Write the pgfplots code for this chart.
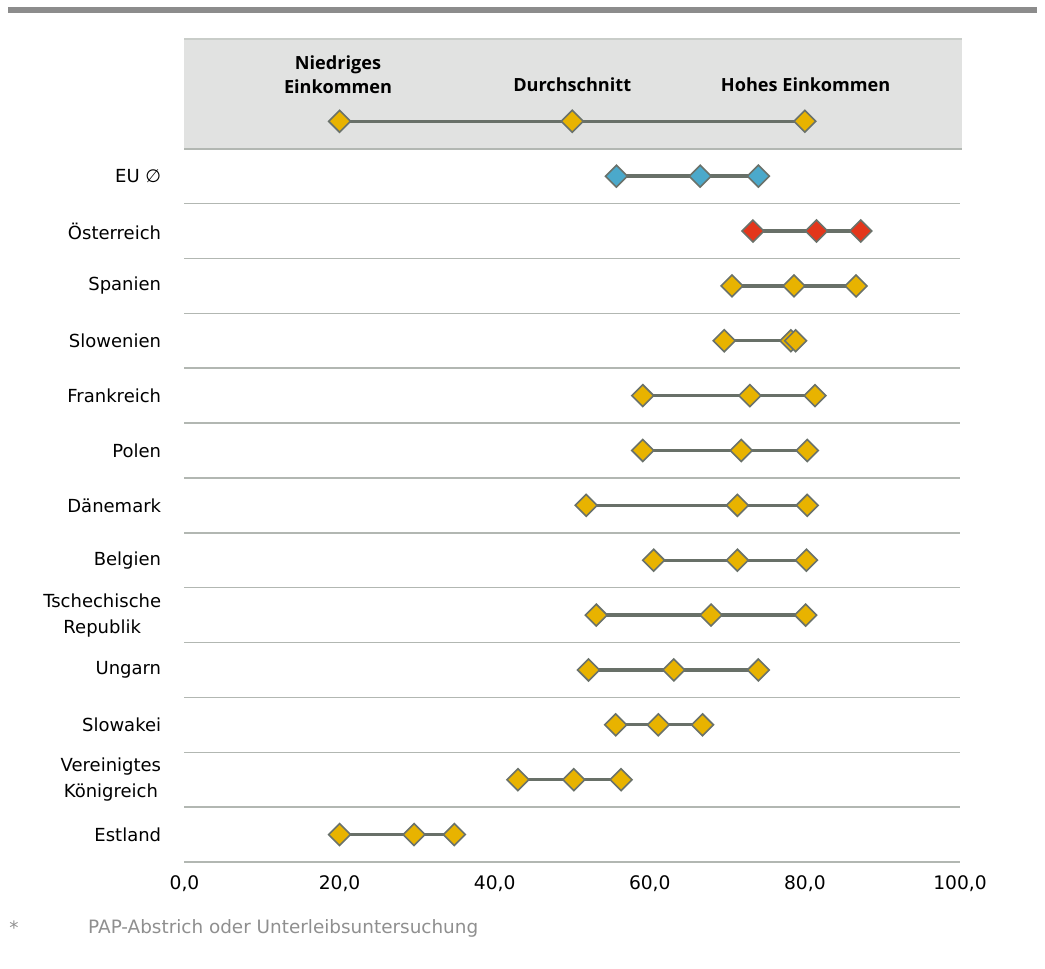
\documentclass[border=0pt]{standalone}
\usepackage{fontspec}
\setmainfont{DejaVu Sans}
\newfontfamily\headfont{Open Sans}
\usepackage{pgfplots}
\pgfplotsset{compat=1.18}
\definecolor{gold}{HTML}{E8B300}
\definecolor{blueM}{HTML}{4BA9CB}
\definecolor{redM}{HTML}{E3361B}
\definecolor{outl}{HTML}{6A726B}
\definecolor{linec}{HTML}{687068}
\definecolor{sepgray}{HTML}{B2B7B2}
\definecolor{headgray}{HTML}{E1E2E1}
\definecolor{topbar}{HTML}{8C8C8C}
\definecolor{footgray}{HTML}{8F8F8F}
\pgfplotsset{
  dumb/.style={color=linec, line width=2.5pt, mark=square*, mark size=5.8pt,
    mark options={fill=#1, draw=outl, line width=1.2pt, rotate=45}},
}
\begin{document}
\begin{tikzpicture}
\path[use as bounding box] (-138.375pt,-80.25pt) rectangle (645.375pt,646.5pt);
\fill[topbar] (-132.4pt,636.75pt) rectangle (639.4pt,641.25pt);
\begin{axis}[at={(0pt,0pt)}, anchor=south west, scale only axis,
  width=581.6pt, height=617.25pt,
  xmin=0, xmax=100, ymin=0.5, ymax=15.5, clip=false,
  axis x line*=bottom, axis y line*=left,
  y axis line style={draw=none},
  x axis line style={sepgray, line width=1.2pt},
  major tick length=0pt, minor tick length=0pt,
  xtick={0,20,...,100},
  xticklabel={\pgfmathprintnumber[fixed,fixed zerofill,precision=1,use comma]{\tick}},
  /pgf/number format/assume math mode=true,
  xticklabel style={font=\fontsize{14}{16}\selectfont, yshift=-7pt},
  ytick={1,...,13},
  yticklabels={Estland,{Vereinigtes\\Königreich},Slowakei,Ungarn,{Tschechische\\Republik},Belgien,Dänemark,Polen,Frankreich,Slowenien,Spanien,Österreich,EU ∅},
  yticklabel style={font=\fontsize{13.5}{19.5}\selectfont, align=center, anchor=east, xshift=-14pt},
  minor ytick={1.5,2.5,...,12.5},
  yminorgrids, minor grid style={sepgray, line width=1.1pt},
]
\fill[headgray] (axis cs:0,13.5) rectangle (axis cs:100.25,15.5);
\draw[sepgray!70, line width=1pt] (axis cs:0,15.5) -- (axis cs:100.25,15.5);
\draw[sepgray, line width=1.2pt] (axis cs:0,13.5) -- (axis cs:100.25,13.5);
\node[font=\headfont\bfseries\fontsize{13.6}{18}\selectfont, align=center] at (axis cs:19.8,14.85) {Niedriges\\Einkommen};
\node[font=\headfont\bfseries\fontsize{13.6}{18}\selectfont] at (axis cs:50,14.67) {Durchschnitt};
\node[font=\headfont\bfseries\fontsize{13.6}{18}\selectfont] at (axis cs:80.1,14.67) {Hohes Einkommen};
\addplot[dumb=gold] coordinates {(20,14) (50,14) (80,14)};
\addplot[dumb=blueM] coordinates {(55.7,13) (66.5,13) (74.0,13)};
\addplot[dumb=redM] coordinates {(73.3,12) (81.5,12) (87.2,12)};
\addplot[dumb=gold] coordinates {(70.6,11) (78.6,11) (86.6,11)};
\addplot[dumb=gold] coordinates {(69.6,10) (78.2,10) (78.8,10)};
\addplot[dumb=gold] coordinates {(59.1,9) (72.9,9) (81.3,9)};
\addplot[dumb=gold] coordinates {(59.1,8) (71.8,8) (80.3,8)};
\addplot[dumb=gold] coordinates {(51.8,7) (71.3,7) (80.3,7)};
\addplot[dumb=gold] coordinates {(60.5,6) (71.3,6) (80.2,6)};
\addplot[dumb=gold] coordinates {(53.1,5) (67.9,5) (80.1,5)};
\addplot[dumb=gold] coordinates {(52.1,4) (63.1,4) (74.0,4)};
\addplot[dumb=gold] coordinates {(55.6,3) (61.1,3) (66.8,3)};
\addplot[dumb=gold] coordinates {(43.0,2) (50.2,2) (56.3,2)};
\addplot[dumb=gold] coordinates {(20.0,1) (29.6,1) (34.8,1)};
\end{axis}
\node[footgray, font=\fontsize{13.8}{16}\selectfont] at (-127.9pt,-49.5pt) {*};
\node[footgray, font=\fontsize{13.8}{16}\selectfont, anchor=west, inner sep=0pt] at (-72.4pt,-49.5pt) {PAP-Abstrich oder Unterleibsuntersuchung};
\end{tikzpicture}
\end{document}
